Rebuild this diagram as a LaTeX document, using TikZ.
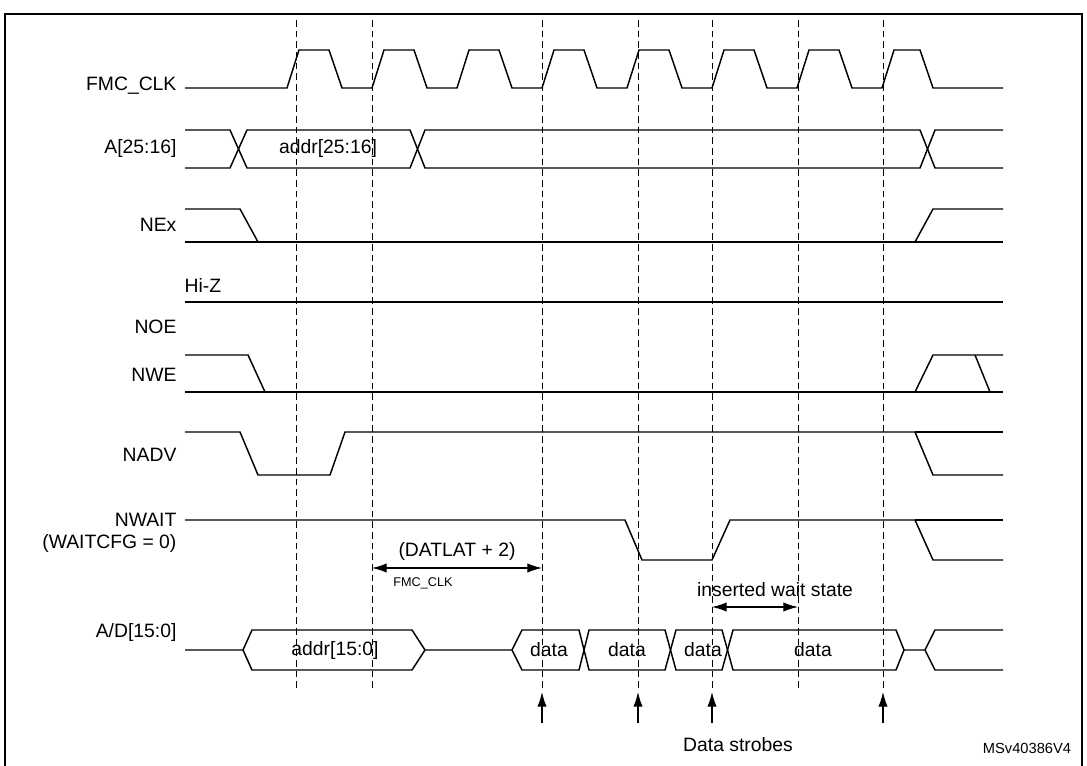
\documentclass[tikz,border=0pt]{standalone}
\usepackage{fontspec}
\setmainfont{Liberation Sans}
\usetikzlibrary{arrows.meta}
\begin{document}
\begin{tikzpicture}[x=0.75pt,y=-0.75pt,
  sig/.style={line width=1.1pt},
  dsh/.style={dashed,line width=0.5pt,dash pattern=on 5pt off 3pt},
  lbl/.style={anchor=east,font=\fontsize{14.5}{16}\selectfont,inner sep=1pt},
  txt/.style={font=\fontsize{14.5}{16}\selectfont,inner sep=1pt},
  tip/.tip={Latex[length=11pt,width=7pt]},
  arr/.style={-tip,line width=0.9pt},
  darr/.style={tip-tip,line width=0.9pt}]
\useasboundingbox (0,0) rectangle (1087,766);
\draw[line width=1.2pt] (5,14) rectangle (1082,768);
% dashed lines
\foreach \x/\n in {296/d1,372/d2,542/d3,638/d4,712/d5,798/d6,883/d7}{
  \coordinate (\n t) at (\x,20); \coordinate (\n b) at (\x,688);
  \draw[dsh] (\n t) -- (\n b);}
% labels
\node[lbl] (lclk) at (178,86) {FMC\_CLK};
\node[lbl] (la) at (178,149) {A[25:16]};
\node[lbl] (lne) at (178,225) {NEx};
\node[txt,anchor=west] (lhz) at (183,285) {Hi-Z};
\node[lbl] (lnoe) at (178,327) {NOE};
\node[lbl] (lnwe) at (178,375) {NWE};
\node[lbl] (lnadv) at (178,455) {NADV};
\node[lbl] (lnw) at (178,520) {NWAIT};
\node[lbl] (lwc) at (178,543) {(WAITCFG = 0)};
\node[lbl] (lad) at (178,632) {A/D[15:0]};
% clock
\draw[sig] (185,88) -- (287,88)
 \foreach \k in {0,...,6}{ -- ++(12,-38) -- ++(30,0) -- ++(13,38) -- ++(30,0)}
 -- ++(12,-38) -- ++(26,0) -- ++(13,38) -- (1003,88);
% A[25:16]
\draw[sig] (185,130) -- (230,130) -- (247,168) -- (410,168) -- (425,130) -- (920,130) -- (935,168) -- (1003,168);
\draw[sig] (185,168) -- (230,168) -- (247,130) -- (410,130) -- (425,168) -- (920,168) -- (935,130) -- (1003,130);
\node[txt] (aa) at (328,149) {addr[25:16]};
% NEx
\draw[sig] (185,209) -- (240,209) -- (258,242);
\draw[sig] (185,242) -- (1003,242);
\draw[sig] (915,242) -- (933,209) -- (1003,209);
% Hi-Z
\draw[sig] (185,302) -- (1003,302);
% NWE
\draw[sig] (185,355) -- (248,355) -- (265,392);
\draw[sig] (185,392) -- (1003,392);
\draw[sig] (915,392) -- (933,355) -- (1003,355);
\draw[sig] (975,355) -- (990,392);
% NADV
\draw[sig] (185,432) -- (240,432) -- (258,475) -- (330,475) -- (345,432) -- (915,432) -- (933,475) -- (1003,475);
\draw[sig] (915,432) -- (1003,432);
% NWAIT
\draw[sig] (185,520) -- (625,520) -- (642,560) -- (712,560) -- (730,520) -- (915,520) -- (933,560) -- (1003,560);
\draw[sig] (915,520) -- (1003,520);
% A/D
\draw[sig] (185,650) -- (243,650) -- (252,630) -- (412,630) -- (425,650) -- (512,650);
\draw[sig] (243,650) -- (252,670) -- (412,670) -- (425,650);
\draw[sig] (512,650) -- (522,630) -- (579,630) -- (589,670) -- (665,670) -- (676,630) -- (722,630) -- (733,670) -- (896,670) -- (904,650) -- (925,650) -- (935,630) -- (1003,630);
\draw[sig] (512,650) -- (522,670) -- (579,670) -- (589,630) -- (665,630) -- (676,670) -- (722,670) -- (733,630) -- (896,630) -- (904,650);
\draw[sig] (925,650) -- (935,670) -- (1003,670);
\node[txt] (ta) at (335,650) {addr[15:0]};
\node[txt] (t1) at (549,650) {data};
\node[txt] (t2) at (627,650) {data};
\node[txt] (t3) at (703,650) {data};
\node[txt] (t4) at (813,650) {data};
% annotations
\coordinate (p1) at (372,568); \coordinate (p2) at (542,568);
\draw[darr] (p1) -- (p2);
\node[txt] (dl) at (457,551) {(DATLAT + 2)};
\node[txt,font=\fontsize{9.5}{11}\selectfont] (fc) at (423,583) {FMC\_CLK};
\node[txt] (iw) at (775,590) {inserted wait state};
\coordinate (p3) at (712,607); \coordinate (p4) at (798,607);
\draw[darr] (p3) -- (p4);
\foreach \x/\n in {542/s1,638/s2,712/s3,883/s4}{
  \coordinate (\n) at (\x,723); \coordinate (\n e) at (\x,692);
  \draw[arr] (\n) -- (\n e);}
\node[txt] (ds) at (738,745) {Data strobes};
\node[txt,font=\fontsize{11}{13}\selectfont] (ms) at (1027,748) {MSv40386V4};
\end{tikzpicture}
\end{document}
